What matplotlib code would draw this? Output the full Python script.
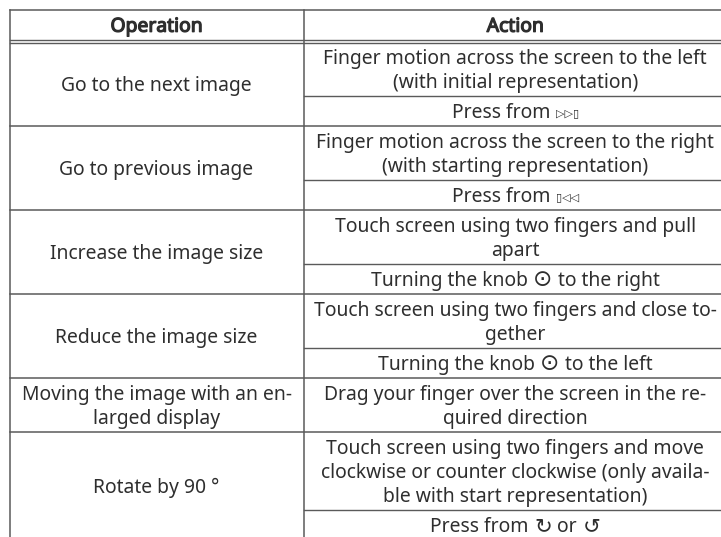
import matplotlib
matplotlib.use('Agg')
import matplotlib.pyplot as plt
import matplotlib.patheffects as pe

plt.rcParams['font.family'] = ['Noto Sans', 'DejaVu Sans']

# table text
headers = ['Operation', 'Action']
operations = ['Go to the next image', 'Go to previous image', 'Increase the image size',
              'Reduce the image size', 'Moving the image with an en-\nlarged display', 'Rotate by 90 °']
actions = [
    ['Finger motion across the screen to the left\n(with initial representation)', ['Press from', '▷▷▯']],
    ['Finger motion across the screen to the right\n(with starting representation)', ['Press from', '▯◁◁']],
    ['Touch screen using two fingers and pull\napart', ['Turning the knob', '⊙', 'to the right']],
    ['Touch screen using two fingers and close to-\ngether', ['Turning the knob', '⊙', 'to the left']],
    ['Drag your finger over the screen in the re-\nquired direction'],
    ['Touch screen using two fingers and move\nclockwise or counter clockwise (only availa-\nble with start representation)',
     ['Press from', '↻', 'or', '↺']],
]

# layout in pixels of the reference
left, mid, right = 9.5, 303.5, 727
top, header_bottom = 9.5, 40
row_lines = [[96, 126], [180, 210], [264, 294], [348, 378], [432], [510, 540]]

fig = plt.figure(figsize=(7.21, 5.37), dpi=100)
ax = fig.add_axes([0, 0, 1, 1])
ax.set_xlim(0, 721)
ax.set_ylim(537, 0)
ax.axis('off')

line_col = '#5a5a5a'
text_col = '#2e2e2e'
fs = 13.9
icon_sizes = {'▷': 0.58, '◁': 0.58, '▯': 0.58, '⊙': 1.2, '↻': 1.1, '↺': 1.1}
icon_raise = {'▷': 2, '◁': 2, '▯': 2}
renderer = fig.canvas.get_renderer()


def draw_pieces(pieces, xc, yc):
    # one line of text with icons in it, centred as a whole
    items = []
    for p in pieces:
        size = fs * icon_sizes.get(p[0], 1.0)
        t = ax.text(0, yc + 7 - icon_raise.get(p[0], 0), p, ha='left', va='baseline',
                    fontsize=size, color=text_col)
        items.append(t)
    widths = [t.get_window_extent(renderer).width for t in items]
    gap = 5.5
    x = xc - (sum(widths) + gap * (len(items) - 1)) / 2
    for t, w in zip(items, widths):
        t.set_x(x)
        x += w + gap


ax.plot([left, 721], [top, top], color=line_col, lw=1.1)
ax.plot([left, 721], [header_bottom, header_bottom], color=line_col, lw=1.0)
ax.plot([left, 721], [header_bottom + 2.5, header_bottom + 2.5], color=line_col, lw=1.0)
for x in [left, mid]:
    ax.plot([x, x], [top, 537], color=line_col, lw=1.1)

for xc, h in zip([(left + mid) / 2, (mid + right) / 2], headers):
    ax.text(xc, (top + header_bottom) / 2 + 2, h, ha='center', va='center', fontsize=fs,
            color=text_col, path_effects=[pe.withStroke(linewidth=0.9, foreground=text_col)])

y0 = header_bottom + 2.5
for op, acts, ys in zip(operations, actions, row_lines):
    y_end = ys[-1]
    ax.text((left + mid) / 2, (y0 + y_end) / 2 + 2, op, ha='center', va='center', fontsize=fs,
            color=text_col, linespacing=1.25)
    if y_end < 537:
        ax.plot([left, 721], [y_end, y_end], color=line_col, lw=1.1)
    y1 = y0
    for act, y in zip(acts, ys):
        if isinstance(act, list):
            draw_pieces(act, (mid + right) / 2, (y1 + y) / 2)
        else:
            ax.text((mid + right) / 2, (y1 + y) / 2 + 2, act, ha='center', va='center', fontsize=fs,
                    color=text_col, linespacing=1.25)
        if y != y_end:
            ax.plot([mid, 721], [y, y], color=line_col, lw=1.0)
        y1 = y
    y0 = y_end

fig.savefig('out.png', dpi=100)
